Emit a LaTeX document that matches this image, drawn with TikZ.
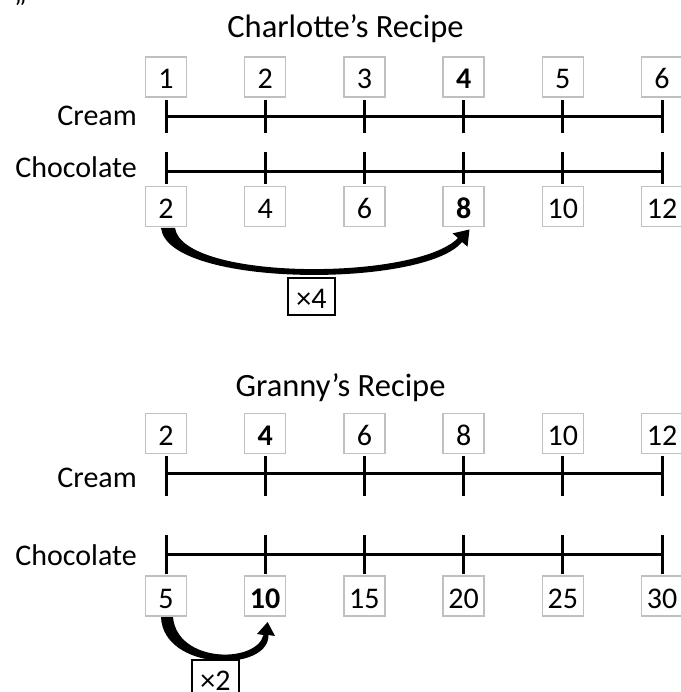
\documentclass[tikz,border=0pt]{standalone}
\usepackage{fontspec}
\setmainfont{Carlito}
\definecolor{boxgray}{HTML}{C0C0C0}
\begin{document}
\begin{tikzpicture}[x=1pt,y=-1pt,
  font=\fontsize{30}{36}\selectfont,
  numbox/.style={draw=boxgray, line width=1.5pt, minimum width=41pt, minimum height=40pt, inner sep=0pt, text height=24pt, text depth=0pt},
  factorbox/.style={draw=black, line width=1.5pt, minimum width=47pt, minimum height=37pt, inner sep=0pt, text height=23pt, text depth=0pt},
  axis/.style={line width=3pt},
  rowlabel/.style={anchor=base east, inner sep=0pt},
  title/.style={anchor=base, inner sep=0pt, font=\fontsize{32.5}{38}\selectfont},
  bigarrow/.style={fill=black, draw=none}]
\useasboundingbox (0,0) rectangle (680,692);

% stray mark at top-left
\node[anchor=base west, inner sep=0pt] (qm) at (14,19) {”};

% ---------------- Charlotte's Recipe ----------------
\node[title] (t1) at (345.5,38) {Charlotte’s Recipe};
\node[rowlabel] (cream1) at (137,126) {Cream};
\node[rowlabel] (choc1) at (137,178) {Chocolate};

\coordinate (ca) at (166,117); \coordinate (cz) at (662,117);
\coordinate (da) at (166,172); \coordinate (dz) at (662,172);
\draw[axis] (ca) -- (cz);
\draw[axis] (da) -- (dz);
\foreach \i in {1,...,6}{
  \draw[axis] ({166+99.2*(\i-1)},100) -- ({166+99.2*(\i-1)},133);
  \draw[axis] ({166+99.2*(\i-1)},152) -- ({166+99.2*(\i-1)},184);
}
\foreach \i/\t in {1/1,2/2,3/3,4/{\textbf{4}},5/5,6/6}
  \node[numbox] (ct\i) at ({166+99.2*(\i-1)},77) {\t};
\foreach \i/\t in {1/2,2/4,3/6,4/{\textbf{8}},5/10,6/12}
  \node[numbox] (cb\i) at ({166+99.2*(\i-1)},206.5) {\t};

% tapered arrow 2 -> 8
\path[bigarrow] (161,228) .. controls (168,288) and (425,288) .. (462,242)
   -- (467.5,246.6) -- (469.5,229.5) -- (452.5,233.4) -- (458,238)
   .. controls (416,281) and (183,281) .. (175,228) -- cycle;
\node[factorbox] (x4) at (311.5,296.5) {×4};

% ---------------- Granny's Recipe ----------------
\node[title] (t2) at (340.5,396) {Granny’s Recipe};
\node[rowlabel] (cream2) at (137,487) {Cream};
\node[rowlabel] (choc2) at (137,565) {Chocolate};

\coordinate (ga) at (166,473); \coordinate (gz) at (662,473);
\coordinate (ha) at (166,554); \coordinate (hz) at (662,554);
\draw[axis] (ga) -- (gz);
\draw[axis] (ha) -- (hz);
\foreach \i in {1,...,6}{
  \draw[axis] ({166+99.2*(\i-1)},456) -- ({166+99.2*(\i-1)},496);
  \draw[axis] ({166+99.2*(\i-1)},535) -- ({166+99.2*(\i-1)},574);
}
\foreach \i/\t in {1/2,2/{\textbf{4}},3/6,4/8,5/10,6/12}
  \node[numbox] (gt\i) at ({166+99.2*(\i-1)},433.5) {\t};
\foreach \i/\t in {1/5,2/{\textbf{10}},3/15,4/20,5/25,6/30}
  \node[numbox] (gb\i) at ({166+99.2*(\i-1)},596) {\t};

% tapered arrow 5 -> 10
\path[bigarrow] (161,617) .. controls (163,671) and (269,673) .. (268.5,635)
   -- (275,636) -- (267.6,622) -- (257,634) -- (263.5,635)
   .. controls (256,664) and (177,663) .. (173,617) -- cycle;
\node[factorbox] (x2) at (215.5,678.5) {×2};
\end{tikzpicture}
\end{document}
